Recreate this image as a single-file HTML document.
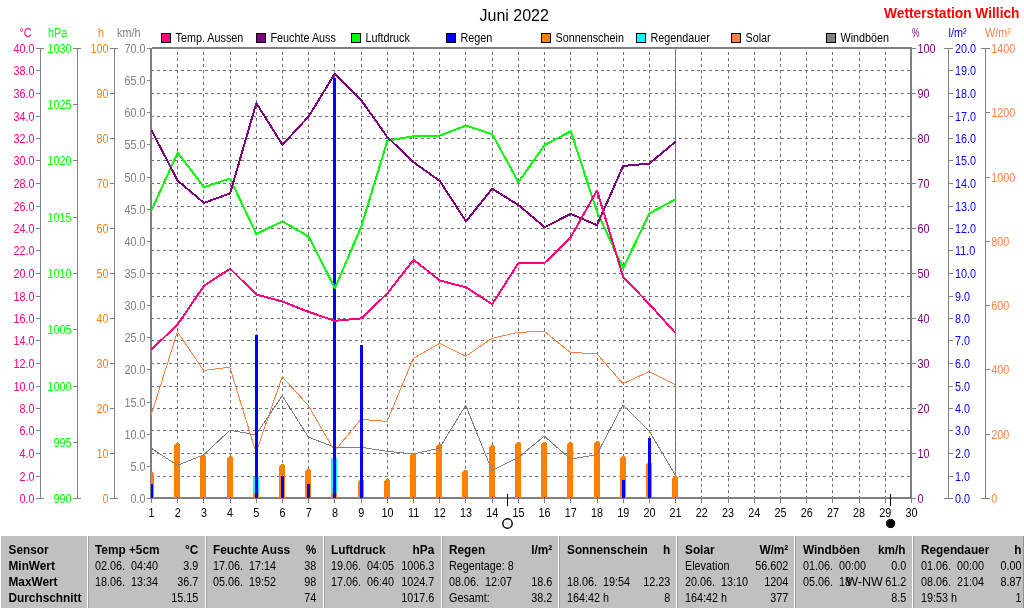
<!DOCTYPE html>
<html><head><meta charset="utf-8"><title>Juni 2022 - Wetterstation Willich</title>
<style>html,body{margin:0;padding:0;background:#fff;}svg{display:block;font-family:"Liberation Sans", Arial, sans-serif;}
.g{shape-rendering:crispEdges;}text{white-space:pre;}</style></head><body>
<svg width="1024" height="608" viewBox="0 0 1024 608">
<defs><clipPath id="pc"><rect x="151" y="47" width="761" height="452"/></clipPath></defs>
<rect width="1024" height="608" fill="#fff"/>
<g class="g" fill="#808080">
<rect x="152" y="47" width="760" height="2"/>
<rect x="150" y="497" width="762" height="2"/>
<rect x="150" y="48" width="2" height="451"/>
<rect x="910" y="47" width="2" height="452"/>
<rect x="675" y="48" width="1" height="450"/>
<rect x="151" y="499" width="1" height="4"/>
<rect x="177" y="499" width="1" height="4"/>
<rect x="203" y="499" width="1" height="4"/>
<rect x="230" y="499" width="1" height="4"/>
<rect x="256" y="499" width="1" height="4"/>
<rect x="282" y="499" width="1" height="4"/>
<rect x="308" y="499" width="1" height="4"/>
<rect x="334" y="499" width="1" height="4"/>
<rect x="361" y="499" width="1" height="4"/>
<rect x="387" y="499" width="1" height="4"/>
<rect x="413" y="499" width="1" height="4"/>
<rect x="439" y="499" width="1" height="4"/>
<rect x="465" y="499" width="1" height="4"/>
<rect x="492" y="499" width="1" height="4"/>
<rect x="518" y="499" width="1" height="4"/>
<rect x="544" y="499" width="1" height="4"/>
<rect x="570" y="499" width="1" height="4"/>
<rect x="597" y="499" width="1" height="4"/>
<rect x="623" y="499" width="1" height="4"/>
<rect x="649" y="499" width="1" height="4"/>
<rect x="675" y="499" width="1" height="4"/>
<rect x="701" y="499" width="1" height="4"/>
<rect x="728" y="499" width="1" height="4"/>
<rect x="754" y="499" width="1" height="4"/>
<rect x="780" y="499" width="1" height="4"/>
<rect x="806" y="499" width="1" height="4"/>
<rect x="832" y="499" width="1" height="4"/>
<rect x="859" y="499" width="1" height="4"/>
<rect x="885" y="499" width="1" height="4"/>
<rect x="911" y="499" width="1" height="4"/>
</g>
<g class="g" stroke="#707070" stroke-width="1" stroke-dasharray="3,3" fill="none">
<line x1="152" y1="476.5" x2="910" y2="476.5" stroke-dashoffset="1"/>
<line x1="152" y1="453.5" x2="910" y2="453.5" stroke-dashoffset="1"/>
<line x1="152" y1="430.5" x2="910" y2="430.5" stroke-dashoffset="1"/>
<line x1="152" y1="408.5" x2="910" y2="408.5" stroke-dashoffset="1"/>
<line x1="152" y1="386.5" x2="910" y2="386.5" stroke-dashoffset="1"/>
<line x1="152" y1="363.5" x2="910" y2="363.5" stroke-dashoffset="1"/>
<line x1="152" y1="340.5" x2="910" y2="340.5" stroke-dashoffset="1"/>
<line x1="152" y1="318.5" x2="910" y2="318.5" stroke-dashoffset="1"/>
<line x1="152" y1="296.5" x2="910" y2="296.5" stroke-dashoffset="1"/>
<line x1="152" y1="273.5" x2="910" y2="273.5" stroke-dashoffset="1"/>
<line x1="152" y1="250.5" x2="910" y2="250.5" stroke-dashoffset="1"/>
<line x1="152" y1="228.5" x2="910" y2="228.5" stroke-dashoffset="1"/>
<line x1="152" y1="206.5" x2="910" y2="206.5" stroke-dashoffset="1"/>
<line x1="152" y1="183.5" x2="910" y2="183.5" stroke-dashoffset="1"/>
<line x1="152" y1="160.5" x2="910" y2="160.5" stroke-dashoffset="1"/>
<line x1="152" y1="138.5" x2="910" y2="138.5" stroke-dashoffset="1"/>
<line x1="152" y1="116.5" x2="910" y2="116.5" stroke-dashoffset="1"/>
<line x1="152" y1="93.5" x2="910" y2="93.5" stroke-dashoffset="1"/>
<line x1="152" y1="70.5" x2="910" y2="70.5" stroke-dashoffset="1"/>
<line x1="177.5" y1="49" x2="177.5" y2="497" stroke-dashoffset="3"/>
<line x1="203.5" y1="49" x2="203.5" y2="497" stroke-dashoffset="3"/>
<line x1="230.5" y1="49" x2="230.5" y2="497" stroke-dashoffset="3"/>
<line x1="256.5" y1="49" x2="256.5" y2="497" stroke-dashoffset="3"/>
<line x1="282.5" y1="49" x2="282.5" y2="497" stroke-dashoffset="3"/>
<line x1="308.5" y1="49" x2="308.5" y2="497" stroke-dashoffset="3"/>
<line x1="334.5" y1="49" x2="334.5" y2="497" stroke-dashoffset="3"/>
<line x1="361.5" y1="49" x2="361.5" y2="497" stroke-dashoffset="3"/>
<line x1="387.5" y1="49" x2="387.5" y2="497" stroke-dashoffset="3"/>
<line x1="413.5" y1="49" x2="413.5" y2="497" stroke-dashoffset="3"/>
<line x1="439.5" y1="49" x2="439.5" y2="497" stroke-dashoffset="3"/>
<line x1="465.5" y1="49" x2="465.5" y2="497" stroke-dashoffset="3"/>
<line x1="492.5" y1="49" x2="492.5" y2="497" stroke-dashoffset="3"/>
<line x1="518.5" y1="49" x2="518.5" y2="497" stroke-dashoffset="3"/>
<line x1="544.5" y1="49" x2="544.5" y2="497" stroke-dashoffset="3"/>
<line x1="570.5" y1="49" x2="570.5" y2="497" stroke-dashoffset="3"/>
<line x1="597.5" y1="49" x2="597.5" y2="497" stroke-dashoffset="3"/>
<line x1="623.5" y1="49" x2="623.5" y2="497" stroke-dashoffset="3"/>
<line x1="649.5" y1="49" x2="649.5" y2="497" stroke-dashoffset="3"/>
<line x1="675.5" y1="49" x2="675.5" y2="497" stroke-dashoffset="3"/>
<line x1="701.5" y1="49" x2="701.5" y2="497" stroke-dashoffset="3"/>
<line x1="728.5" y1="49" x2="728.5" y2="497" stroke-dashoffset="3"/>
<line x1="754.5" y1="49" x2="754.5" y2="497" stroke-dashoffset="3"/>
<line x1="780.5" y1="49" x2="780.5" y2="497" stroke-dashoffset="3"/>
<line x1="806.5" y1="49" x2="806.5" y2="497" stroke-dashoffset="3"/>
<line x1="832.5" y1="49" x2="832.5" y2="497" stroke-dashoffset="3"/>
<line x1="859.5" y1="49" x2="859.5" y2="497" stroke-dashoffset="3"/>
<line x1="885.5" y1="49" x2="885.5" y2="497" stroke-dashoffset="3"/>
</g>
<g class="g" clip-path="url(#pc)">
<rect x="253" y="477" width="6" height="21" fill="#00FFFF"/>
<rect x="331" y="458" width="6" height="40" fill="#00FFFF"/>
<path d="M148 498 V474 L150 472 H152 L154 474 V498 Z" fill="#FF8000"/>
<path d="M174 498 V445 L176 443 H178 L180 445 V498 Z" fill="#FF8000"/>
<path d="M200 498 V457 L202 455 H204 L206 457 V498 Z" fill="#FF8000"/>
<path d="M227 498 V458 L229 456 H231 L233 458 V498 Z" fill="#FF8000"/>
<path d="M253 498 V494 L255 492 H257 L259 494 V498 Z" fill="#FF8000"/>
<path d="M279 498 V466 L281 464 H283 L285 466 V498 Z" fill="#FF8000"/>
<path d="M305 498 V471 L307 469 H309 L311 471 V498 Z" fill="#FF8000"/>
<path d="M331 498 V494 L333 492 H335 L337 494 V498 Z" fill="#FF8000"/>
<path d="M358 498 V481 L360 479 H362 L364 481 V498 Z" fill="#FF8000"/>
<path d="M384 498 V481 L386 479 H388 L390 481 V498 Z" fill="#FF8000"/>
<path d="M410 498 V455 L412 453 H414 L416 455 V498 Z" fill="#FF8000"/>
<path d="M436 498 V446 L438 444 H440 L442 446 V498 Z" fill="#FF8000"/>
<path d="M462 498 V472 L464 470 H466 L468 472 V498 Z" fill="#FF8000"/>
<path d="M489 498 V447 L491 445 H493 L495 447 V498 Z" fill="#FF8000"/>
<path d="M515 498 V444 L517 442 H519 L521 444 V498 Z" fill="#FF8000"/>
<path d="M541 498 V444 L543 442 H545 L547 444 V498 Z" fill="#FF8000"/>
<path d="M567 498 V444 L569 442 H571 L573 444 V498 Z" fill="#FF8000"/>
<path d="M594 498 V443 L596 441 H598 L600 443 V498 Z" fill="#FF8000"/>
<path d="M620 498 V458 L622 456 H624 L626 458 V498 Z" fill="#FF8000"/>
<path d="M646 498 V464 L648 462 H650 L652 464 V498 Z" fill="#FF8000"/>
<path d="M672 498 V478 L674 476 H676 L678 478 V498 Z" fill="#FF8000"/>
</g>
<polyline class="g" points="151.2,448.1 177.4,465.3 203.6,454.9 229.8,430.3 256.0,434.8 282.2,395.7 308.4,437.1 334.6,447.2 360.9,447.2 387.1,451.3 413.3,454.0 439.5,448.2 465.7,405.3 491.9,470.4 518.1,457.7 544.3,436.1 570.5,459.2 596.7,454.7 622.9,405.0 649.1,431.0 675.3,474.9" fill="none" stroke="#808080" stroke-width="1" stroke-linejoin="round"/>
<polyline class="g" points="151.2,415.0 177.4,331.8 203.6,370.5 229.8,367.2 256.0,452.5 282.2,376.7 308.4,405.7 334.6,451.0 360.9,419.4 387.1,421.4 413.3,358.4 439.5,343.4 465.7,356.1 491.9,338.4 518.1,332.4 544.3,331.3 570.5,352.6 596.7,353.5 622.9,383.7 649.1,371.5 675.3,384.6" fill="none" stroke="#FF8040" stroke-width="1" stroke-linejoin="round"/>
<g class="g" clip-path="url(#pc)">
<rect x="150" y="484" width="3" height="14" fill="#0000FF"/>
<rect x="177" y="497" width="1" height="1" fill="#0000FF"/>
<rect x="203" y="497" width="1" height="1" fill="#0000FF"/>
<rect x="230" y="497" width="1" height="1" fill="#0000FF"/>
<rect x="255" y="335" width="3" height="163" fill="#0000FF"/>
<rect x="281" y="476" width="3" height="22" fill="#0000FF"/>
<rect x="307" y="484" width="3" height="14" fill="#0000FF"/>
<rect x="333" y="78" width="3" height="420" fill="#0000FF"/>
<rect x="360" y="345" width="3" height="153" fill="#0000FF"/>
<rect x="387" y="497" width="1" height="1" fill="#0000FF"/>
<rect x="413" y="497" width="1" height="1" fill="#0000FF"/>
<rect x="439" y="497" width="1" height="1" fill="#0000FF"/>
<rect x="465" y="497" width="1" height="1" fill="#0000FF"/>
<rect x="492" y="497" width="1" height="1" fill="#0000FF"/>
<rect x="518" y="497" width="1" height="1" fill="#0000FF"/>
<rect x="544" y="497" width="1" height="1" fill="#0000FF"/>
<rect x="570" y="497" width="1" height="1" fill="#0000FF"/>
<rect x="597" y="497" width="1" height="1" fill="#0000FF"/>
<rect x="622" y="480" width="3" height="18" fill="#0000FF"/>
<rect x="648" y="438" width="3" height="60" fill="#0000FF"/>
<rect x="675" y="497" width="1" height="1" fill="#0000FF"/>
</g>
<polyline class="g" points="151.5,210.3 177.7,152.5 203.9,187.2 230.1,178.6 256.3,234.0 282.5,221.3 308.7,236.7 334.9,288.2 361.2,226.7 387.4,140.7 413.6,136.2 439.8,135.6 466.0,125.6 492.2,134.2 518.4,182.1 544.6,145.1 570.8,131.2 597.0,211.8 623.2,268.1 649.4,213.3 675.6,199.4" fill="none" stroke="#00FF00" stroke-width="2" stroke-linejoin="round"/>
<polyline class="g" points="151.5,130.3 177.7,180.7 203.9,202.9 230.1,193.4 256.3,103.1 282.5,144.8 308.7,116.4 334.9,73.5 361.2,100.1 387.4,137.1 413.6,162.3 439.8,181.0 466.0,221.3 492.2,188.7 518.4,205.0 544.6,227.2 570.8,213.9 597.0,225.1 623.2,165.9 649.4,163.6 675.6,141.6" fill="none" stroke="#800080" stroke-width="2" stroke-linejoin="round"/>
<polyline class="g" points="151.5,349.5 177.7,324.4 203.9,285.9 230.1,268.7 256.3,294.5 282.5,301.6 308.7,311.9 334.9,320.8 361.2,318.4 387.4,293.3 413.6,259.8 439.8,280.5 466.0,287.3 492.2,304.2 518.4,263.0 544.6,263.0 570.8,237.0 597.0,190.5 623.2,277.0 649.4,304.2 675.6,333.2" fill="none" stroke="#FF0080" stroke-width="2" stroke-linejoin="round"/>
<text transform="translate(151.5 517) scale(0.9 1)" font-size="12" fill="#000" text-anchor="middle">1</text>
<text transform="translate(177.7 517) scale(0.9 1)" font-size="12" fill="#000" text-anchor="middle">2</text>
<text transform="translate(203.9 517) scale(0.9 1)" font-size="12" fill="#000" text-anchor="middle">3</text>
<text transform="translate(230.1 517) scale(0.9 1)" font-size="12" fill="#000" text-anchor="middle">4</text>
<text transform="translate(256.3 517) scale(0.9 1)" font-size="12" fill="#000" text-anchor="middle">5</text>
<text transform="translate(282.5 517) scale(0.9 1)" font-size="12" fill="#000" text-anchor="middle">6</text>
<text transform="translate(308.7 517) scale(0.9 1)" font-size="12" fill="#000" text-anchor="middle">7</text>
<text transform="translate(334.9 517) scale(0.9 1)" font-size="12" fill="#000" text-anchor="middle">8</text>
<text transform="translate(361.2 517) scale(0.9 1)" font-size="12" fill="#000" text-anchor="middle">9</text>
<text transform="translate(387.4 517) scale(0.9 1)" font-size="12" fill="#000" text-anchor="middle">10</text>
<text transform="translate(413.6 517) scale(0.9 1)" font-size="12" fill="#000" text-anchor="middle">11</text>
<text transform="translate(439.8 517) scale(0.9 1)" font-size="12" fill="#000" text-anchor="middle">12</text>
<text transform="translate(466.0 517) scale(0.9 1)" font-size="12" fill="#000" text-anchor="middle">13</text>
<text transform="translate(492.2 517) scale(0.9 1)" font-size="12" fill="#000" text-anchor="middle">14</text>
<text transform="translate(518.4 517) scale(0.9 1)" font-size="12" fill="#000" text-anchor="middle">15</text>
<text transform="translate(544.6 517) scale(0.9 1)" font-size="12" fill="#000" text-anchor="middle">16</text>
<text transform="translate(570.8 517) scale(0.9 1)" font-size="12" fill="#000" text-anchor="middle">17</text>
<text transform="translate(597.0 517) scale(0.9 1)" font-size="12" fill="#000" text-anchor="middle">18</text>
<text transform="translate(623.2 517) scale(0.9 1)" font-size="12" fill="#000" text-anchor="middle">19</text>
<text transform="translate(649.4 517) scale(0.9 1)" font-size="12" fill="#000" text-anchor="middle">20</text>
<text transform="translate(675.6 517) scale(0.9 1)" font-size="12" fill="#000" text-anchor="middle">21</text>
<text transform="translate(701.8 517) scale(0.9 1)" font-size="12" fill="#000" text-anchor="middle">22</text>
<text transform="translate(728.1 517) scale(0.9 1)" font-size="12" fill="#000" text-anchor="middle">23</text>
<text transform="translate(754.3 517) scale(0.9 1)" font-size="12" fill="#000" text-anchor="middle">24</text>
<text transform="translate(780.5 517) scale(0.9 1)" font-size="12" fill="#000" text-anchor="middle">25</text>
<text transform="translate(806.7 517) scale(0.9 1)" font-size="12" fill="#000" text-anchor="middle">26</text>
<text transform="translate(832.9 517) scale(0.9 1)" font-size="12" fill="#000" text-anchor="middle">27</text>
<text transform="translate(859.1 517) scale(0.9 1)" font-size="12" fill="#000" text-anchor="middle">28</text>
<text transform="translate(885.3 517) scale(0.9 1)" font-size="12" fill="#000" text-anchor="middle">29</text>
<text transform="translate(911.5 517) scale(0.9 1)" font-size="12" fill="#000" text-anchor="middle">30</text>
<g class="g"><rect x="507" y="494" width="1" height="12" fill="#000"/><rect x="890" y="494" width="1" height="12" fill="#000"/></g>
<circle cx="507.5" cy="523.5" r="4.7" fill="#fff" stroke="#000" stroke-width="1.4"/>
<circle cx="890.5" cy="523.5" r="4.1" fill="#fff" stroke="#000" stroke-width="1"/>
<circle cx="890.9" cy="523.5" r="4.3" fill="#000"/>
<g class="g" fill="#808080">
<rect x="40" y="48" width="1" height="451"/>
<rect x="36" y="498" width="8" height="1"/>
<rect x="36" y="476" width="4" height="1"/>
<rect x="36" y="453" width="4" height="1"/>
<rect x="36" y="430" width="4" height="1"/>
<rect x="36" y="408" width="4" height="1"/>
<rect x="36" y="386" width="4" height="1"/>
<rect x="36" y="363" width="4" height="1"/>
<rect x="36" y="340" width="4" height="1"/>
<rect x="36" y="318" width="4" height="1"/>
<rect x="36" y="296" width="4" height="1"/>
<rect x="36" y="273" width="4" height="1"/>
<rect x="36" y="250" width="4" height="1"/>
<rect x="36" y="228" width="4" height="1"/>
<rect x="36" y="206" width="4" height="1"/>
<rect x="36" y="183" width="4" height="1"/>
<rect x="36" y="160" width="4" height="1"/>
<rect x="36" y="138" width="4" height="1"/>
<rect x="36" y="116" width="4" height="1"/>
<rect x="36" y="93" width="4" height="1"/>
<rect x="36" y="70" width="4" height="1"/>
<rect x="36" y="48" width="8" height="1"/>
</g>
<text transform="translate(34.5 503) scale(0.9 1)" font-size="12" fill="#FF0080" text-anchor="end">0.0</text>
<text transform="translate(34.5 481) scale(0.9 1)" font-size="12" fill="#FF0080" text-anchor="end">2.0</text>
<text transform="translate(34.5 458) scale(0.9 1)" font-size="12" fill="#FF0080" text-anchor="end">4.0</text>
<text transform="translate(34.5 435) scale(0.9 1)" font-size="12" fill="#FF0080" text-anchor="end">6.0</text>
<text transform="translate(34.5 413) scale(0.9 1)" font-size="12" fill="#FF0080" text-anchor="end">8.0</text>
<text transform="translate(34.5 391) scale(0.9 1)" font-size="12" fill="#FF0080" text-anchor="end">10.0</text>
<text transform="translate(34.5 368) scale(0.9 1)" font-size="12" fill="#FF0080" text-anchor="end">12.0</text>
<text transform="translate(34.5 345) scale(0.9 1)" font-size="12" fill="#FF0080" text-anchor="end">14.0</text>
<text transform="translate(34.5 323) scale(0.9 1)" font-size="12" fill="#FF0080" text-anchor="end">16.0</text>
<text transform="translate(34.5 301) scale(0.9 1)" font-size="12" fill="#FF0080" text-anchor="end">18.0</text>
<text transform="translate(34.5 278) scale(0.9 1)" font-size="12" fill="#FF0080" text-anchor="end">20.0</text>
<text transform="translate(34.5 255) scale(0.9 1)" font-size="12" fill="#FF0080" text-anchor="end">22.0</text>
<text transform="translate(34.5 233) scale(0.9 1)" font-size="12" fill="#FF0080" text-anchor="end">24.0</text>
<text transform="translate(34.5 211) scale(0.9 1)" font-size="12" fill="#FF0080" text-anchor="end">26.0</text>
<text transform="translate(34.5 188) scale(0.9 1)" font-size="12" fill="#FF0080" text-anchor="end">28.0</text>
<text transform="translate(34.5 165) scale(0.9 1)" font-size="12" fill="#FF0080" text-anchor="end">30.0</text>
<text transform="translate(34.5 143) scale(0.9 1)" font-size="12" fill="#FF0080" text-anchor="end">32.0</text>
<text transform="translate(34.5 121) scale(0.9 1)" font-size="12" fill="#FF0080" text-anchor="end">34.0</text>
<text transform="translate(34.5 98) scale(0.9 1)" font-size="12" fill="#FF0080" text-anchor="end">36.0</text>
<text transform="translate(34.5 75) scale(0.9 1)" font-size="12" fill="#FF0080" text-anchor="end">38.0</text>
<text transform="translate(34.5 53) scale(0.9 1)" font-size="12" fill="#FF0080" text-anchor="end">40.0</text>
<text transform="translate(19.5 37) scale(0.9 1)" font-size="12" fill="#FF0080">°C</text>
<g class="g" fill="#808080">
<rect x="77" y="48" width="1" height="451"/>
<rect x="73" y="498" width="8" height="1"/>
<rect x="73" y="442" width="4" height="1"/>
<rect x="73" y="386" width="4" height="1"/>
<rect x="73" y="329" width="4" height="1"/>
<rect x="73" y="273" width="4" height="1"/>
<rect x="73" y="217" width="4" height="1"/>
<rect x="73" y="160" width="4" height="1"/>
<rect x="73" y="104" width="4" height="1"/>
<rect x="73" y="48" width="8" height="1"/>
</g>
<text transform="translate(71.5 503) scale(0.9 1)" font-size="12" fill="#00FF00" text-anchor="end">990</text>
<text transform="translate(71.5 447) scale(0.9 1)" font-size="12" fill="#00FF00" text-anchor="end">995</text>
<text transform="translate(71.5 391) scale(0.9 1)" font-size="12" fill="#00FF00" text-anchor="end">1000</text>
<text transform="translate(71.5 334) scale(0.9 1)" font-size="12" fill="#00FF00" text-anchor="end">1005</text>
<text transform="translate(71.5 278) scale(0.9 1)" font-size="12" fill="#00FF00" text-anchor="end">1010</text>
<text transform="translate(71.5 222) scale(0.9 1)" font-size="12" fill="#00FF00" text-anchor="end">1015</text>
<text transform="translate(71.5 165) scale(0.9 1)" font-size="12" fill="#00FF00" text-anchor="end">1020</text>
<text transform="translate(71.5 109) scale(0.9 1)" font-size="12" fill="#00FF00" text-anchor="end">1025</text>
<text transform="translate(71.5 53) scale(0.9 1)" font-size="12" fill="#00FF00" text-anchor="end">1030</text>
<text transform="translate(48 37) scale(0.9 1)" font-size="12" fill="#00FF00">hPa</text>
<g class="g" fill="#808080">
<rect x="114" y="48" width="1" height="451"/>
<rect x="110" y="498" width="8" height="1"/>
<rect x="110" y="453" width="4" height="1"/>
<rect x="110" y="408" width="4" height="1"/>
<rect x="110" y="363" width="4" height="1"/>
<rect x="110" y="318" width="4" height="1"/>
<rect x="110" y="273" width="4" height="1"/>
<rect x="110" y="228" width="4" height="1"/>
<rect x="110" y="183" width="4" height="1"/>
<rect x="110" y="138" width="4" height="1"/>
<rect x="110" y="93" width="4" height="1"/>
<rect x="110" y="48" width="8" height="1"/>
</g>
<text transform="translate(108.5 503) scale(0.9 1)" font-size="12" fill="#FF8000" text-anchor="end">0</text>
<text transform="translate(108.5 458) scale(0.9 1)" font-size="12" fill="#FF8000" text-anchor="end">10</text>
<text transform="translate(108.5 413) scale(0.9 1)" font-size="12" fill="#FF8000" text-anchor="end">20</text>
<text transform="translate(108.5 368) scale(0.9 1)" font-size="12" fill="#FF8000" text-anchor="end">30</text>
<text transform="translate(108.5 323) scale(0.9 1)" font-size="12" fill="#FF8000" text-anchor="end">40</text>
<text transform="translate(108.5 278) scale(0.9 1)" font-size="12" fill="#FF8000" text-anchor="end">50</text>
<text transform="translate(108.5 233) scale(0.9 1)" font-size="12" fill="#FF8000" text-anchor="end">60</text>
<text transform="translate(108.5 188) scale(0.9 1)" font-size="12" fill="#FF8000" text-anchor="end">70</text>
<text transform="translate(108.5 143) scale(0.9 1)" font-size="12" fill="#FF8000" text-anchor="end">80</text>
<text transform="translate(108.5 98) scale(0.9 1)" font-size="12" fill="#FF8000" text-anchor="end">90</text>
<text transform="translate(108.5 53) scale(0.9 1)" font-size="12" fill="#FF8000" text-anchor="end">100</text>
<text transform="translate(98 37) scale(0.9 1)" font-size="12" fill="#FF8000">h</text>
<g class="g" fill="#808080">
<rect x="147" y="498" width="3" height="1"/>
<rect x="147" y="466" width="3" height="1"/>
<rect x="147" y="434" width="3" height="1"/>
<rect x="147" y="402" width="3" height="1"/>
<rect x="147" y="369" width="3" height="1"/>
<rect x="147" y="337" width="3" height="1"/>
<rect x="147" y="305" width="3" height="1"/>
<rect x="147" y="273" width="3" height="1"/>
<rect x="147" y="241" width="3" height="1"/>
<rect x="147" y="209" width="3" height="1"/>
<rect x="147" y="177" width="3" height="1"/>
<rect x="147" y="144" width="3" height="1"/>
<rect x="147" y="112" width="3" height="1"/>
<rect x="147" y="80" width="3" height="1"/>
<rect x="147" y="48" width="3" height="1"/>
</g>
<text transform="translate(145.5 503) scale(0.9 1)" font-size="12" fill="#808080" text-anchor="end">0.0</text>
<text transform="translate(145.5 471) scale(0.9 1)" font-size="12" fill="#808080" text-anchor="end">5.0</text>
<text transform="translate(145.5 439) scale(0.9 1)" font-size="12" fill="#808080" text-anchor="end">10.0</text>
<text transform="translate(145.5 407) scale(0.9 1)" font-size="12" fill="#808080" text-anchor="end">15.0</text>
<text transform="translate(145.5 374) scale(0.9 1)" font-size="12" fill="#808080" text-anchor="end">20.0</text>
<text transform="translate(145.5 342) scale(0.9 1)" font-size="12" fill="#808080" text-anchor="end">25.0</text>
<text transform="translate(145.5 310) scale(0.9 1)" font-size="12" fill="#808080" text-anchor="end">30.0</text>
<text transform="translate(145.5 278) scale(0.9 1)" font-size="12" fill="#808080" text-anchor="end">35.0</text>
<text transform="translate(145.5 246) scale(0.9 1)" font-size="12" fill="#808080" text-anchor="end">40.0</text>
<text transform="translate(145.5 214) scale(0.9 1)" font-size="12" fill="#808080" text-anchor="end">45.0</text>
<text transform="translate(145.5 182) scale(0.9 1)" font-size="12" fill="#808080" text-anchor="end">50.0</text>
<text transform="translate(145.5 149) scale(0.9 1)" font-size="12" fill="#808080" text-anchor="end">55.0</text>
<text transform="translate(145.5 117) scale(0.9 1)" font-size="12" fill="#808080" text-anchor="end">60.0</text>
<text transform="translate(145.5 85) scale(0.9 1)" font-size="12" fill="#808080" text-anchor="end">65.0</text>
<text transform="translate(145.5 53) scale(0.9 1)" font-size="12" fill="#808080" text-anchor="end">70.0</text>
<text transform="translate(117 37) scale(0.9 1)" font-size="12" fill="#808080">km/h</text>
<g class="g" fill="#808080">
<rect x="912" y="498" width="4" height="1"/>
<rect x="912" y="453" width="4" height="1"/>
<rect x="912" y="408" width="4" height="1"/>
<rect x="912" y="363" width="4" height="1"/>
<rect x="912" y="318" width="4" height="1"/>
<rect x="912" y="273" width="4" height="1"/>
<rect x="912" y="228" width="4" height="1"/>
<rect x="912" y="183" width="4" height="1"/>
<rect x="912" y="138" width="4" height="1"/>
<rect x="912" y="93" width="4" height="1"/>
<rect x="912" y="48" width="4" height="1"/>
</g>
<text transform="translate(917.5 503) scale(0.9 1)" font-size="12" fill="#800080">0</text>
<text transform="translate(917.5 458) scale(0.9 1)" font-size="12" fill="#800080">10</text>
<text transform="translate(917.5 413) scale(0.9 1)" font-size="12" fill="#800080">20</text>
<text transform="translate(917.5 368) scale(0.9 1)" font-size="12" fill="#800080">30</text>
<text transform="translate(917.5 323) scale(0.9 1)" font-size="12" fill="#800080">40</text>
<text transform="translate(917.5 278) scale(0.9 1)" font-size="12" fill="#800080">50</text>
<text transform="translate(917.5 233) scale(0.9 1)" font-size="12" fill="#800080">60</text>
<text transform="translate(917.5 188) scale(0.9 1)" font-size="12" fill="#800080">70</text>
<text transform="translate(917.5 143) scale(0.9 1)" font-size="12" fill="#800080">80</text>
<text transform="translate(917.5 98) scale(0.9 1)" font-size="12" fill="#800080">90</text>
<text transform="translate(917.5 53) scale(0.9 1)" font-size="12" fill="#800080">100</text>
<text transform="translate(912 37) scale(0.7 1)" font-size="12" fill="#800080">%</text>
<g class="g" fill="#808080">
<rect x="948" y="48" width="1" height="451"/>
<rect x="944" y="498" width="9" height="1"/>
<rect x="948" y="476" width="5" height="1"/>
<rect x="948" y="453" width="5" height="1"/>
<rect x="948" y="430" width="5" height="1"/>
<rect x="948" y="408" width="5" height="1"/>
<rect x="948" y="386" width="5" height="1"/>
<rect x="948" y="363" width="5" height="1"/>
<rect x="948" y="340" width="5" height="1"/>
<rect x="948" y="318" width="5" height="1"/>
<rect x="948" y="296" width="5" height="1"/>
<rect x="948" y="273" width="5" height="1"/>
<rect x="948" y="250" width="5" height="1"/>
<rect x="948" y="228" width="5" height="1"/>
<rect x="948" y="206" width="5" height="1"/>
<rect x="948" y="183" width="5" height="1"/>
<rect x="948" y="160" width="5" height="1"/>
<rect x="948" y="138" width="5" height="1"/>
<rect x="948" y="116" width="5" height="1"/>
<rect x="948" y="93" width="5" height="1"/>
<rect x="948" y="70" width="5" height="1"/>
<rect x="944" y="48" width="9" height="1"/>
</g>
<text transform="translate(955 503) scale(0.9 1)" font-size="12" fill="#0000FF">0.0</text>
<text transform="translate(955 481) scale(0.9 1)" font-size="12" fill="#0000FF">1.0</text>
<text transform="translate(955 458) scale(0.9 1)" font-size="12" fill="#0000FF">2.0</text>
<text transform="translate(955 435) scale(0.9 1)" font-size="12" fill="#0000FF">3.0</text>
<text transform="translate(955 413) scale(0.9 1)" font-size="12" fill="#0000FF">4.0</text>
<text transform="translate(955 391) scale(0.9 1)" font-size="12" fill="#0000FF">5.0</text>
<text transform="translate(955 368) scale(0.9 1)" font-size="12" fill="#0000FF">6.0</text>
<text transform="translate(955 345) scale(0.9 1)" font-size="12" fill="#0000FF">7.0</text>
<text transform="translate(955 323) scale(0.9 1)" font-size="12" fill="#0000FF">8.0</text>
<text transform="translate(955 301) scale(0.9 1)" font-size="12" fill="#0000FF">9.0</text>
<text transform="translate(955 278) scale(0.9 1)" font-size="12" fill="#0000FF">10.0</text>
<text transform="translate(955 255) scale(0.9 1)" font-size="12" fill="#0000FF">11.0</text>
<text transform="translate(955 233) scale(0.9 1)" font-size="12" fill="#0000FF">12.0</text>
<text transform="translate(955 211) scale(0.9 1)" font-size="12" fill="#0000FF">13.0</text>
<text transform="translate(955 188) scale(0.9 1)" font-size="12" fill="#0000FF">14.0</text>
<text transform="translate(955 165) scale(0.9 1)" font-size="12" fill="#0000FF">15.0</text>
<text transform="translate(955 143) scale(0.9 1)" font-size="12" fill="#0000FF">16.0</text>
<text transform="translate(955 121) scale(0.9 1)" font-size="12" fill="#0000FF">17.0</text>
<text transform="translate(955 98) scale(0.9 1)" font-size="12" fill="#0000FF">18.0</text>
<text transform="translate(955 75) scale(0.9 1)" font-size="12" fill="#0000FF">19.0</text>
<text transform="translate(955 53) scale(0.9 1)" font-size="12" fill="#0000FF">20.0</text>
<text transform="translate(948.5 37) scale(0.9 1)" font-size="12" fill="#0000FF">l/m²</text>
<g class="g" fill="#808080">
<rect x="985" y="48" width="1" height="451"/>
<rect x="981" y="498" width="9" height="1"/>
<rect x="985" y="434" width="5" height="1"/>
<rect x="985" y="369" width="5" height="1"/>
<rect x="985" y="305" width="5" height="1"/>
<rect x="985" y="241" width="5" height="1"/>
<rect x="985" y="177" width="5" height="1"/>
<rect x="985" y="112" width="5" height="1"/>
<rect x="981" y="48" width="9" height="1"/>
</g>
<text transform="translate(991.3 503) scale(0.9 1)" font-size="12" fill="#FF8040">0</text>
<text transform="translate(991.3 439) scale(0.9 1)" font-size="12" fill="#FF8040">200</text>
<text transform="translate(991.3 374) scale(0.9 1)" font-size="12" fill="#FF8040">400</text>
<text transform="translate(991.3 310) scale(0.9 1)" font-size="12" fill="#FF8040">600</text>
<text transform="translate(991.3 246) scale(0.9 1)" font-size="12" fill="#FF8040">800</text>
<text transform="translate(991.3 182) scale(0.9 1)" font-size="12" fill="#FF8040">1000</text>
<text transform="translate(991.3 117) scale(0.9 1)" font-size="12" fill="#FF8040">1200</text>
<text transform="translate(991.3 53) scale(0.9 1)" font-size="12" fill="#FF8040">1400</text>
<text transform="translate(985 37) scale(0.9 1)" font-size="12" fill="#FF8040">W/m²</text>
<rect class="g" x="161.5" y="33.5" width="9" height="9" fill="#FF0080" stroke="#000" stroke-width="1"/>
<text transform="translate(175.5 42) scale(0.9 1)" font-size="12" fill="#000">Temp. Aussen</text>
<rect class="g" x="256.5" y="33.5" width="9" height="9" fill="#800080" stroke="#000" stroke-width="1"/>
<text transform="translate(270.5 42) scale(0.9 1)" font-size="12" fill="#000">Feuchte Auss</text>
<rect class="g" x="351.5" y="33.5" width="9" height="9" fill="#00FF00" stroke="#000" stroke-width="1"/>
<text transform="translate(365.5 42) scale(0.9 1)" font-size="12" fill="#000">Luftdruck</text>
<rect class="g" x="446.5" y="33.5" width="9" height="9" fill="#0000FF" stroke="#000" stroke-width="1"/>
<text transform="translate(460.5 42) scale(0.9 1)" font-size="12" fill="#000">Regen</text>
<rect class="g" x="541.5" y="33.5" width="9" height="9" fill="#FF8000" stroke="#000" stroke-width="1"/>
<text transform="translate(555.5 42) scale(0.9 1)" font-size="12" fill="#000">Sonnenschein</text>
<rect class="g" x="636.5" y="33.5" width="9" height="9" fill="#00FFFF" stroke="#000" stroke-width="1"/>
<text transform="translate(650.5 42) scale(0.9 1)" font-size="12" fill="#000">Regendauer</text>
<rect class="g" x="731.5" y="33.5" width="9" height="9" fill="#FF8040" stroke="#000" stroke-width="1"/>
<text transform="translate(745.5 42) scale(0.9 1)" font-size="12" fill="#000">Solar</text>
<rect class="g" x="826.5" y="33.5" width="9" height="9" fill="#808080" stroke="#000" stroke-width="1"/>
<text transform="translate(840.5 42) scale(0.9 1)" font-size="12" fill="#000">Windböen</text>
<text transform="translate(514.2 21) scale(1 1)" font-size="16" fill="#000" text-anchor="middle">Juni 2022</text>
<text transform="translate(1019.5 18) scale(0.982 1)" font-size="14" fill="#FF0000" text-anchor="end" font-weight="bold">Wetterstation Willich</text>
<rect class="g" x="1" y="536" width="1023" height="72" fill="#C0C0C0"/>
<g class="g">
<rect x="87" y="536" width="1" height="72" fill="#FFFFFF"/>
<rect x="88" y="536" width="1" height="72" fill="#A0A0A0"/>
<rect x="205" y="536" width="1" height="72" fill="#FFFFFF"/>
<rect x="206" y="536" width="1" height="72" fill="#A0A0A0"/>
<rect x="323" y="536" width="1" height="72" fill="#FFFFFF"/>
<rect x="324" y="536" width="1" height="72" fill="#A0A0A0"/>
<rect x="441" y="536" width="1" height="72" fill="#FFFFFF"/>
<rect x="442" y="536" width="1" height="72" fill="#A0A0A0"/>
<rect x="558" y="536" width="1" height="72" fill="#FFFFFF"/>
<rect x="559" y="536" width="1" height="72" fill="#A0A0A0"/>
<rect x="676" y="536" width="1" height="72" fill="#FFFFFF"/>
<rect x="677" y="536" width="1" height="72" fill="#A0A0A0"/>
<rect x="794" y="536" width="1" height="72" fill="#FFFFFF"/>
<rect x="795" y="536" width="1" height="72" fill="#A0A0A0"/>
<rect x="912" y="536" width="1" height="72" fill="#FFFFFF"/>
<rect x="913" y="536" width="1" height="72" fill="#A0A0A0"/>
<rect x="1023" y="536" width="1" height="72" fill="#909090"/>
</g>
<text transform="translate(8.5 554) scale(0.985 1)" font-size="12" fill="#000" font-weight="bold">Sensor</text>
<text transform="translate(8.5 570) scale(0.985 1)" font-size="12" fill="#000" font-weight="bold">MinWert</text>
<text transform="translate(8.5 586) scale(0.985 1)" font-size="12" fill="#000" font-weight="bold">MaxWert</text>
<text transform="translate(8.5 602) scale(0.985 1)" font-size="12" fill="#000" font-weight="bold">Durchschnitt</text>
<text transform="translate(95 554) scale(0.985 1)" font-size="12" fill="#000" font-weight="bold">Temp +5cm</text>
<text transform="translate(198.3 554) scale(0.985 1)" font-size="12" fill="#000" text-anchor="end" font-weight="bold">°C</text>
<text transform="translate(95 570) scale(0.9 1)" font-size="12" fill="#000">02.06.  04:40</text>
<text transform="translate(198.3 570) scale(0.9 1)" font-size="12" fill="#000" text-anchor="end">3.9</text>
<text transform="translate(95 586) scale(0.9 1)" font-size="12" fill="#000">18.06.  13:34</text>
<text transform="translate(198.3 586) scale(0.9 1)" font-size="12" fill="#000" text-anchor="end">36.7</text>
<text transform="translate(198.3 602) scale(0.9 1)" font-size="12" fill="#000" text-anchor="end">15.15</text>
<text transform="translate(213 554) scale(0.985 1)" font-size="12" fill="#000" font-weight="bold">Feuchte Auss</text>
<text transform="translate(316.3 554) scale(0.985 1)" font-size="12" fill="#000" text-anchor="end" font-weight="bold">%</text>
<text transform="translate(213 570) scale(0.9 1)" font-size="12" fill="#000">17.06.  17:14</text>
<text transform="translate(316.3 570) scale(0.9 1)" font-size="12" fill="#000" text-anchor="end">38</text>
<text transform="translate(213 586) scale(0.9 1)" font-size="12" fill="#000">05.06.  19:52</text>
<text transform="translate(316.3 586) scale(0.9 1)" font-size="12" fill="#000" text-anchor="end">98</text>
<text transform="translate(316.3 602) scale(0.9 1)" font-size="12" fill="#000" text-anchor="end">74</text>
<text transform="translate(331 554) scale(0.985 1)" font-size="12" fill="#000" font-weight="bold">Luftdruck</text>
<text transform="translate(434.3 554) scale(0.985 1)" font-size="12" fill="#000" text-anchor="end" font-weight="bold">hPa</text>
<text transform="translate(331 570) scale(0.9 1)" font-size="12" fill="#000">19.06.  04:05</text>
<text transform="translate(434.3 570) scale(0.9 1)" font-size="12" fill="#000" text-anchor="end">1006.3</text>
<text transform="translate(331 586) scale(0.9 1)" font-size="12" fill="#000">17.06.  06:40</text>
<text transform="translate(434.3 586) scale(0.9 1)" font-size="12" fill="#000" text-anchor="end">1024.7</text>
<text transform="translate(434.3 602) scale(0.9 1)" font-size="12" fill="#000" text-anchor="end">1017.6</text>
<text transform="translate(449 554) scale(0.985 1)" font-size="12" fill="#000" font-weight="bold">Regen</text>
<text transform="translate(552.3 554) scale(0.985 1)" font-size="12" fill="#000" text-anchor="end" font-weight="bold">l/m²</text>
<text transform="translate(449 570) scale(0.9 1)" font-size="12" fill="#000">Regentage: 8</text>
<text transform="translate(449 586) scale(0.9 1)" font-size="12" fill="#000">08.06.  12:07</text>
<text transform="translate(552.3 586) scale(0.9 1)" font-size="12" fill="#000" text-anchor="end">18.6</text>
<text transform="translate(449 602) scale(0.9 1)" font-size="12" fill="#000">Gesamt:</text>
<text transform="translate(552.3 602) scale(0.9 1)" font-size="12" fill="#000" text-anchor="end">38.2</text>
<text transform="translate(567 554) scale(0.985 1)" font-size="12" fill="#000" font-weight="bold">Sonnenschein</text>
<text transform="translate(670.3 554) scale(0.985 1)" font-size="12" fill="#000" text-anchor="end" font-weight="bold">h</text>
<text transform="translate(567 586) scale(0.9 1)" font-size="12" fill="#000">18.06.  19:54</text>
<text transform="translate(670.3 586) scale(0.9 1)" font-size="12" fill="#000" text-anchor="end">12.23</text>
<text transform="translate(567 602) scale(0.9 1)" font-size="12" fill="#000">164:42 h</text>
<text transform="translate(670.3 602) scale(0.9 1)" font-size="12" fill="#000" text-anchor="end">8</text>
<text transform="translate(685 554) scale(0.985 1)" font-size="12" fill="#000" font-weight="bold">Solar</text>
<text transform="translate(788.3 554) scale(0.985 1)" font-size="12" fill="#000" text-anchor="end" font-weight="bold">W/m²</text>
<text transform="translate(685 570) scale(0.9 1)" font-size="12" fill="#000">Elevation</text>
<text transform="translate(788.3 570) scale(0.9 1)" font-size="12" fill="#000" text-anchor="end">56.602</text>
<text transform="translate(685 586) scale(0.9 1)" font-size="12" fill="#000">20.06.  13:10</text>
<text transform="translate(788.3 586) scale(0.9 1)" font-size="12" fill="#000" text-anchor="end">1204</text>
<text transform="translate(685 602) scale(0.9 1)" font-size="12" fill="#000">164:42 h</text>
<text transform="translate(788.3 602) scale(0.9 1)" font-size="12" fill="#000" text-anchor="end">377</text>
<text transform="translate(803 554) scale(0.985 1)" font-size="12" fill="#000" font-weight="bold">Windböen</text>
<text transform="translate(905.5 554) scale(0.985 1)" font-size="12" fill="#000" text-anchor="end" font-weight="bold">km/h</text>
<text transform="translate(803 570) scale(0.9 1)" font-size="12" fill="#000">01.06.  00:00</text>
<text transform="translate(906.3 570) scale(0.9 1)" font-size="12" fill="#000" text-anchor="end">0.0</text>
<text transform="translate(803 586) scale(0.9 1)" font-size="12" fill="#000">05.06.  18</text>
<text transform="translate(906.3 586) scale(0.9 1)" font-size="12" fill="#000" text-anchor="end">61.2</text>
<text transform="translate(846.3 586) scale(1.04 1)" font-size="12" fill="#000">W-NW</text>
<text transform="translate(906.3 602) scale(0.9 1)" font-size="12" fill="#000" text-anchor="end">8.5</text>
<text transform="translate(921 554) scale(0.985 1)" font-size="12" fill="#000" font-weight="bold">Regendauer</text>
<text transform="translate(1021.5 554) scale(0.985 1)" font-size="12" fill="#000" text-anchor="end" font-weight="bold">h</text>
<text transform="translate(921 570) scale(0.9 1)" font-size="12" fill="#000">01.06.  00:00</text>
<text transform="translate(1021.5 570) scale(0.9 1)" font-size="12" fill="#000" text-anchor="end">0.00</text>
<text transform="translate(921 586) scale(0.9 1)" font-size="12" fill="#000">08.06.  21:04</text>
<text transform="translate(1021.5 586) scale(0.9 1)" font-size="12" fill="#000" text-anchor="end">8.87</text>
<text transform="translate(921 602) scale(0.9 1)" font-size="12" fill="#000">19:53 h</text>
<text transform="translate(1021.5 602) scale(0.9 1)" font-size="12" fill="#000" text-anchor="end">1</text>
</svg></body></html>
